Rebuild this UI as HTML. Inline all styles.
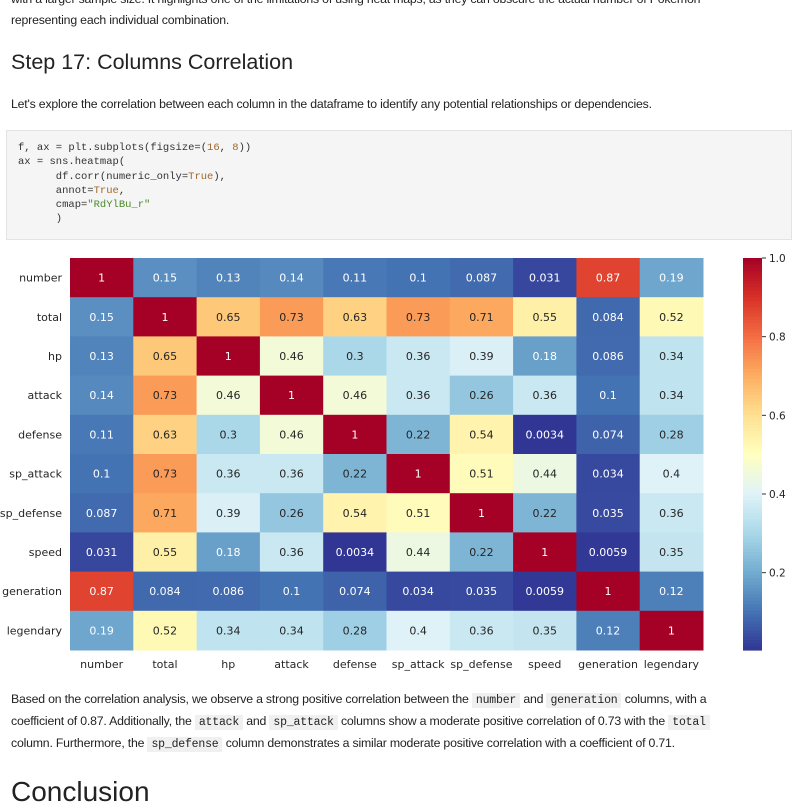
<!DOCTYPE html>
<html><head><meta charset="utf-8"><style>
body{margin:0;width:800px;height:800px;overflow:hidden;background:#fff;font-family:"Liberation Sans",sans-serif;color:#222;position:relative}
.p{position:absolute;left:11px;font-size:12.3px;line-height:21px;margin:0;letter-spacing:-0.2px}
h2{position:absolute;left:11px;top:50px;margin:0;font-size:21.5px;font-weight:normal;color:#222}
h1{position:absolute;left:11px;top:776px;margin:0;font-size:28px;font-weight:normal}
.code{position:absolute;left:6px;top:130px;width:786px;height:110px;background:#f5f5f5;border:1px solid #e3e3e3;box-sizing:border-box;font-family:"Liberation Mono",monospace;font-size:10.5px;line-height:14.3px;padding:10px 0 0 11px;white-space:pre;color:#333}
.n{color:#a0682b}.s{color:#4a8a28}
code{font-family:"Liberation Mono",monospace;background:#f0f0f0;font-size:11.5px;padding:1px 4px}
</style></head><body>
<p class="p" style="top:-11px">with a larger sample size. It highlights one of the limitations of using heat maps, as they can obscure the actual number of Pokémon<br>representing each individual combination.</p>
<h2>Step 17: Columns Correlation</h2>
<p class="p" style="top:94px">Let's explore the correlation between each column in the dataframe to identify any potential relationships or dependencies.</p>
<div class="code">f, ax = plt.subplots(figsize=(<span class="n">16</span>, <span class="n">8</span>))
ax = sns.heatmap(
      df.corr(numeric_only=<span class="n">True</span>),
      annot=<span class="n">True</span>,
      cmap=<span class="s">"RdYlBu_r"</span>
      )</div>
<svg id="chart" width="800" height="680" style="position:absolute;left:0;top:0" font-family="DejaVu Sans, sans-serif"></svg>
<p class="p" style="top:689px">Based on the correlation analysis, we observe a strong positive correlation between the <code>number</code> and <code>generation</code> columns, with a<br>coefficient of 0.87. Additionally, the <code>attack</code> and <code>sp_attack</code> columns show a moderate positive correlation of 0.73 with the <code>total</code><br>column. Furthermore, the <code>sp_defense</code> column demonstrates a similar moderate positive correlation with a coefficient of 0.71.</p>
<h1>Conclusion</h1>
<script>
const labels=["number","total","hp","attack","defense","sp_attack","sp_defense","speed","generation","legendary"];
const matrix=[
[1,0.15,0.13,0.14,0.11,0.1,0.087,0.031,0.87,0.19],
[0.15,1,0.65,0.73,0.63,0.73,0.71,0.55,0.084,0.52],
[0.13,0.65,1,0.46,0.3,0.36,0.39,0.18,0.086,0.34],
[0.14,0.73,0.46,1,0.46,0.36,0.26,0.36,0.1,0.34],
[0.11,0.63,0.3,0.46,1,0.22,0.54,0.0034,0.074,0.28],
[0.1,0.73,0.36,0.36,0.22,1,0.51,0.44,0.034,0.4],
[0.087,0.71,0.39,0.26,0.54,0.51,1,0.22,0.035,0.36],
[0.031,0.55,0.18,0.36,0.0034,0.44,0.22,1,0.0059,0.35],
[0.87,0.084,0.086,0.1,0.074,0.034,0.035,0.0059,1,0.12],
[0.19,0.52,0.34,0.34,0.28,0.4,0.36,0.35,0.12,1]];
const cbTicks=[0.2,0.4,0.6,0.8,1.0];
const vmin=0.0034,vmax=1;
const stops=["#313695","#4575b4","#74add1","#abd9e9","#e0f3f8","#ffffbf","#fee090","#fdae61","#f46d43","#d73027","#a50026"];
const X0=70,X1=703,Y0=258,Y1=650;
const cw=(X1-X0)/labels.length,ch=(Y1-Y0)/labels.length;
const xS=i=>X0+i*cw,yS=i=>Y0+i*ch;
function hex(h){return [1,3,5].map(i=>parseInt(h.substr(i,2),16));}
function cmap(v){let t=Math.max(0,Math.min(1,(v-vmin)/(vmax-vmin)))*(stops.length-1);let i=Math.min(Math.floor(t),stops.length-2),f=t-i;const a=hex(stops[i]),b=hex(stops[i+1]);return a.map((c,k)=>Math.round(c+(b[k]-c)*f));}
function lum(c){const l=c.map(x=>{x/=255;return x<=0.03928?x/12.92:Math.pow((x+0.055)/1.055,2.4)});return 0.2126*l[0]+0.7152*l[1]+0.0722*l[2];}
const svg=document.getElementById('chart');const NS="http://www.w3.org/2000/svg";
function mk(t,a,txt){const e=document.createElementNS(NS,t);for(const k in a)e.setAttribute(k,a[k]);if(txt!==undefined)e.textContent=txt;svg.appendChild(e);return e;}
matrix.forEach((row,r)=>row.forEach((v,c)=>{const col=cmap(v);
const rect=mk('rect',{x:xS(c),y:yS(r),width:cw+0.5,height:ch+0.5,fill:`rgb(${col})`});


const t=mk('text',{x:xS(c)+cw/2,y:yS(r)+ch/2+4,'text-anchor':'middle','font-size':'11',fill:lum(col)>0.408?'#262626':'#ffffff'},String(v));


}));
labels.forEach((l,i)=>{
const a=mk('text',{x:X0-8,y:yS(i)+ch/2+4,'text-anchor':'end','font-size':'11',fill:'#262626'},l);


const b=mk('text',{x:xS(i)+cw/2,y:Y1+18,'text-anchor':'middle','font-size':'11',fill:'#262626'},l);


});
const CX=743,CW=19,N=120;
for(let k=0;k<N;k++){const v=vmax-(k+0.5)/N*(vmax-vmin);const r=mk('rect',{x:CX,y:Y0+k*(Y1-Y0)/N,width:CW,height:(Y1-Y0)/N+0.6,fill:`rgb(${cmap(v)})`});

}
const cy=v=>Y0+(vmax-v)/(vmax-vmin)*(Y1-Y0);
cbTicks.forEach(v=>{const y=cy(v);mk('line',{x1:CX+CW,x2:CX+CW+4,y1:y,y2:y,stroke:'#333'});
const t=mk('text',{x:CX+CW+7,y:y+4,'font-size':'10.5',fill:'#262626'},v.toFixed(1));

});
</script>
</body></html>
